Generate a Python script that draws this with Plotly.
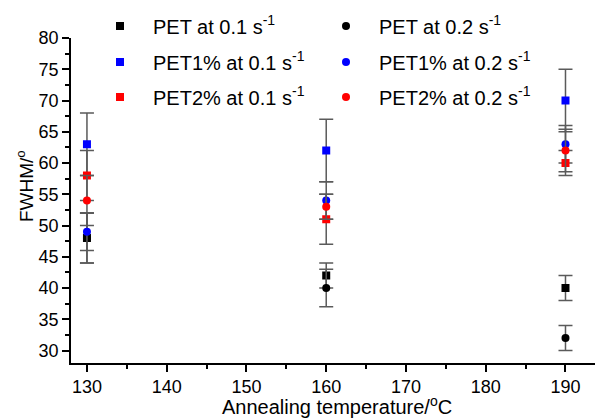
import plotly.graph_objects as go

temps = [130, 160, 190]

pet_01 = [48, 42, 40]
pet_01_err = [4, 2, 2]
pet_02 = [48, 40, 32]
pet_02_err = [4, 3, 2]
pet1_01 = [63, 62, 70]
pet1_01_err = [5, 5, 5]
pet1_02 = [49, 54, 63]
pet1_02_err = [3, 3, 3]
pet2_01 = [58, 51, 60]
pet2_01_err = [4, 4, 2]
pet2_02 = [54, 53, 62]
pet2_02_err = [4, 2, 3.4]

series = [
    ("PET at 0.1 s<sup>-1</sup>", pet_01, pet_01_err, "square", "#000000", "legend"),
    ("PET at 0.2 s<sup>-1</sup>", pet_02, pet_02_err, "circle", "#000000", "legend"),
    ("PET1% at 0.1 s<sup>-1</sup>", pet1_01, pet1_01_err, "square", "#0000FF", "legend2"),
    ("PET1% at 0.2 s<sup>-1</sup>", pet1_02, pet1_02_err, "circle", "#0000FF", "legend2"),
    ("PET2% at 0.1 s<sup>-1</sup>", pet2_01, pet2_01_err, "square", "#FF0000", "legend3"),
    ("PET2% at 0.2 s<sup>-1</sup>", pet2_02, pet2_02_err, "circle", "#FF0000", "legend3"),
]

fig = go.Figure()
for name, ys, errs, sym, col, leg in series:
    fig.add_trace(go.Scatter(
        x=temps, y=ys, mode="markers", name=name, legend=leg,
        marker=dict(symbol=sym, size=8, color=col, line=dict(width=0)),
        error_y=dict(type="data", array=errs, visible=True,
                     color="#5a5a5a", thickness=1.5, width=7),
    ))

font = "Liberation Sans, Arial, sans-serif"
W, H = 595, 419
L, R, T, B = 71, 0, 38, 56
pw, ph = W - L - R, H - T - B

def px(xp):
    return (xp - L) / pw

def py(yp):
    return (H - B - yp) / ph

legcommon = dict(orientation="h", xanchor="left", yanchor="middle",
                 bgcolor="rgba(0,0,0,0)", font=dict(family=font, size=20, color="#000"),
                 entrywidth=155, itemwidth=56, itemsizing="trace")

fig.update_layout(
    width=W, height=H,
    margin=dict(l=L, r=R, t=T, b=B, autoexpand=False),
    plot_bgcolor="white", paper_bgcolor="white",
    font=dict(family=font, size=18, color="#000"),
    showlegend=True,
    legend=dict(x=px(87), y=py(26), **legcommon),
    legend2=dict(x=px(87), y=py(62), **legcommon),
    legend3=dict(x=px(87), y=py(97), **legcommon),
    xaxis=dict(range=[128, 193.7], tickvals=[130, 140, 150, 160, 170, 180, 190],
               ticks="outside", ticklen=7, tickwidth=1.5, tickcolor="#000",
               showline=True, linecolor="#000", linewidth=1.5, showgrid=False, zeroline=False,
               minor=dict(dtick=5, tick0=130, ticks="outside", ticklen=4, tickwidth=1.5, tickcolor="#000"),
               tickfont=dict(family=font, size=18)),
    yaxis=dict(range=[28, 80], tickvals=[30, 35, 40, 45, 50, 55, 60, 65, 70, 75, 80],
               ticks="outside", ticklen=7, tickwidth=1.5, tickcolor="#000",
               showline=True, linecolor="#000", linewidth=1.5, showgrid=False, zeroline=False,
               minor=dict(dtick=2.5, tick0=30, ticks="outside", ticklen=4, tickwidth=1.5, tickcolor="#000"),
               tickfont=dict(family=font, size=18)),
    annotations=[
        dict(text="Annealing temperature/<sup>o</sup>C", x=px(337), y=py(420), xref="paper", yref="paper",
             showarrow=False, xanchor="center", yanchor="bottom", font=dict(family=font, size=20)),
        dict(text="FWHM/<sup>o</sup>", x=px(25), y=py(186), xref="paper", yref="paper", textangle=-90,
             showarrow=False, xanchor="center", yanchor="middle", font=dict(family=font, size=19)),
    ],
)

fig.write_html("out.html", config={"displayModeBar": False},
               post_script="document.body.style.margin='0';document.body.style.padding='0';")
